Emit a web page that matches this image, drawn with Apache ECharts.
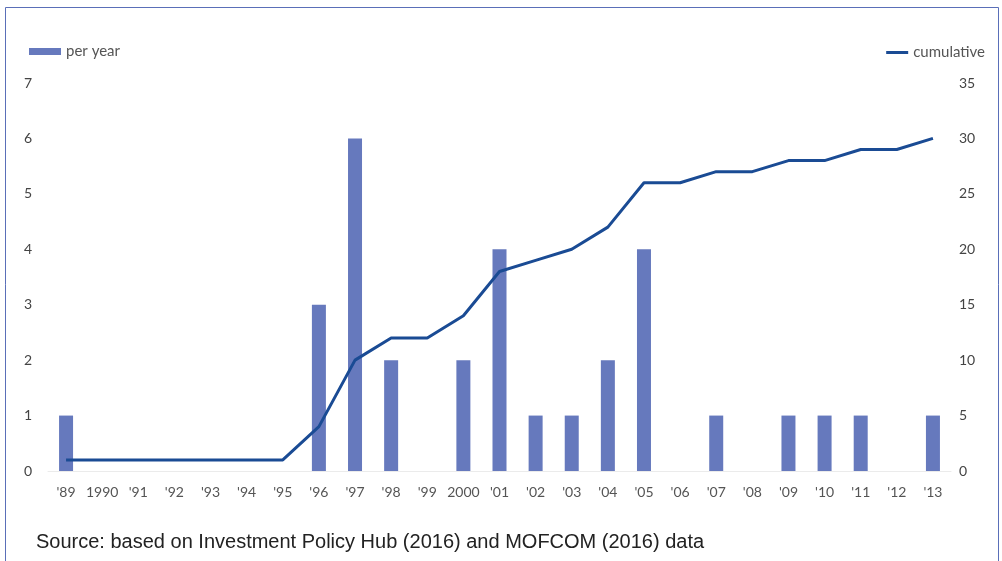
<!DOCTYPE html>
<html>
<head>
<meta charset="utf-8">
<script src="https://cdn.jsdelivr.net/npm/echarts@6/dist/echarts.min.js"></script>
<style>
  html, body { margin: 0; padding: 0; background: #fff; }
  #chart { width: 1002px; height: 561px; }
</style>
</head>
<body>
<div id="chart"></div>
<script>
// 年份
const years = ["'89", '1990', "'91", "'92", "'93", "'94", "'95", "'96", "'97", "'98", "'99", '2000',
  "'01", "'02", "'03", "'04", "'05", "'06", "'07", "'08", "'09", "'10", "'11", "'12", "'13"]
// 每年数量
const perYear = [1, 0, 0, 0, 0, 0, 0, 3, 6, 2, 0, 2, 4, 1, 1, 2, 4, 0, 1, 0, 1, 1, 1, 0, 1]
// 累计数量
const cumulative = [1, 1, 1, 1, 1, 1, 1, 4, 10, 12, 12, 14, 18, 19, 20, 22, 26, 26, 27, 27, 28, 28, 29, 29, 30]
const sourceNote = 'Source: based on Investment Policy Hub (2016) and MOFCOM (2016) data'

const chart = echarts.init(document.getElementById('chart'))
const labelFont = 'Lato, "Open Sans", sans-serif'
const option = {
  animation: false,
  textStyle: { fontFamily: labelFont },
  grid: { left: 48, right: 51, top: 83, bottom: 90 },
  legend: [
    {
      data: ['per year'],
      left: 24, top: 39,
      itemWidth: 32, itemHeight: 7, itemGap: 4,
      icon: 'rect',
      textStyle: { fontSize: 15, color: '#555', fontFamily: labelFont }
    },
    {
      data: ['cumulative'],
      right: 12, top: 40,
      itemWidth: 22, itemHeight: 3,
      icon: 'rect',
      textStyle: { fontSize: 15, color: '#555', fontFamily: labelFont }
    }
  ],
  xAxis: {
    type: 'category',
    data: years,
    axisTick: { show: false },
    axisLine: { lineStyle: { color: '#ebebeb', width: 1 } },
    axisLabel: { color: '#555', fontSize: 14, margin: 14, interval: 0 }
  },
  yAxis: [
    {
      type: 'value', min: 0, max: 7, interval: 1,
      splitLine: { show: false },
      axisLine: { show: false }, axisTick: { show: false },
      axisLabel: { color: '#444', fontSize: 14, margin: 16 }
    },
    {
      type: 'value', min: 0, max: 35, interval: 5,
      splitLine: { show: false },
      axisLine: { show: false }, axisTick: { show: false },
      axisLabel: { color: '#444', fontSize: 14, margin: 8 }
    }
  ],
  series: [
    {
      name: 'per year',
      type: 'bar',
      data: perYear,
      barWidth: 14,
      itemStyle: { color: '#6679bd' }
    },
    {
      name: 'cumulative',
      type: 'line',
      yAxisIndex: 1,
      data: cumulative,
      symbol: 'none',
      lineStyle: { color: '#1a4b94', width: 3 },
      itemStyle: { color: '#1a4b94' }
    }
  ],
  graphic: [
    {
      type: 'rect',
      shape: { x: 5.5, y: 7.5, width: 993, height: 600 },
      style: { fill: 'none', stroke: '#5a6fb8', lineWidth: 1 },
      silent: true
    },
    {
      type: 'text',
      left: 36, top: 532,
      style: {
        text: sourceNote,
        fill: '#222',
        font: '20px "Liberation Sans", Arial, sans-serif'
      }
    }
  ]
}
chart.setOption(option)
</script>
</body>
</html>
